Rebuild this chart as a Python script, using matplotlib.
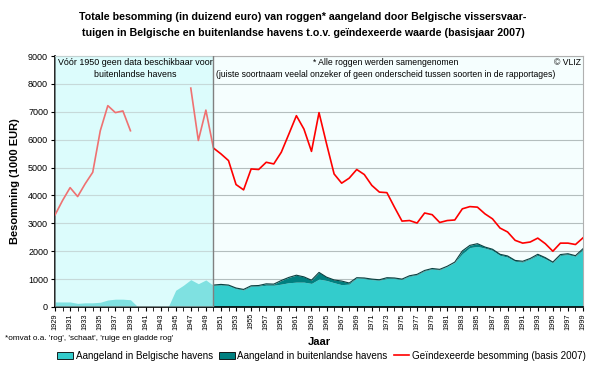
import numpy as np
import matplotlib.pyplot as plt
from matplotlib.patches import Patch
from matplotlib.lines import Line2D

plt.rcParams["font.family"] = ["Liberation Sans", "DejaVu Sans"]

years = np.arange(1929, 2000)

# Geindexeerde besomming (basis 2007), None = geen data (1929-1949)
red_pre = [3300, 3820, 4280, 3960, 4420, 4830, 6320, 7220, 6970, 7030, 6320,
           None, None, None, None, None, None, None, 7850, 5970, 7060]
# 1950-1999
red_post = [5700, 5490, 5250, 4390, 4200, 4950, 4930, 5190, 5130, 5550,
            6200, 6860, 6380, 5580, 6970, 5850, 4770, 4440, 4620, 4930,
            4750, 4360, 4120, 4100, 3580, 3080, 3100, 3010, 3370, 3310,
            3030, 3100, 3120, 3520, 3600, 3580, 3340, 3160, 2830, 2690,
            2390, 2290, 2330, 2470, 2270, 2000, 2290, 2290, 2240, 2480]

# Aangeland in Belgische havens (1929-1949)
belg_pre = [180, 180, 180, 130, 150, 150, 170, 250, 280, 280, 260,
            0, 0, 0, 0, 0, 600, 775, 980, 835, 970]
# 1950-1999
belg_post = [770, 790, 770, 660, 610, 740, 750, 780, 780, 820,
             870, 890, 890, 845, 1000, 950, 870, 800, 820, 1040,
             1020, 980, 960, 1020, 1020, 990, 1100, 1150, 1290, 1360,
             1330, 1450, 1600, 1910, 2130, 2170, 2110, 2030, 1850, 1790,
             1640, 1610, 1720, 1850, 1730, 1590, 1850, 1880, 1820, 2050]
# Totaal (Belgische + buitenlandse havens), 1950-1999
total_post = [786, 810, 786, 680, 630, 760, 770, 830, 820, 950,
              1060, 1140, 1080, 960, 1240, 1070, 970, 930, 860, 1050,
              1040, 1000, 976, 1050, 1040, 1000, 1120, 1170, 1310, 1380,
              1350, 1460, 1610, 2010, 2210, 2270, 2150, 2070, 1890, 1830,
              1670, 1640, 1740, 1890, 1770, 1610, 1880, 1910, 1840, 2090]

red = np.array(red_pre + red_post, dtype=float)
y_old = years[years <= 1950]
y_new = years[years >= 1950]
belg_old = np.array(belg_pre + belg_post[:1], dtype=float)
belg_new = np.array(belg_post, dtype=float)
total_new = np.array(total_post, dtype=float)

BG_OLD = "#dcfcfc"
CYAN = "#33cccc"
TEAL = "#008080"

fig = plt.figure(figsize=(6, 3.68), dpi=100)
ax = fig.add_axes([0.0917, 0.1658, 0.88, 0.682])
ax.set_facecolor("#f5fefe")
ax.axvspan(1929, 1950, facecolor=BG_OLD, zorder=0)

ax.fill_between(y_old, 0, belg_old, color=CYAN, lw=0, zorder=2)
ax.fill_between(y_new, 0, belg_new, color=CYAN, lw=0, zorder=2)
ax.fill_between(y_new, belg_new, total_new, color=TEAL, lw=0, zorder=2)
ax.plot(y_new, total_new, color="#0a4040", lw=0.8, zorder=2.5)
ax.plot(years, red, color="red", lw=1.2, zorder=3)

# lichter maken van periode voor 1950
ax.axvspan(1929, 1950, facecolor=BG_OLD, alpha=0.45, lw=0, zorder=4)
ax.axvline(1950, color="#808080", lw=1, zorder=5)

ax.set_xlim(1929, 1999)
ax.set_ylim(0, 9000)
ax.set_yticks(np.arange(0, 9001, 1000))
ax.yaxis.grid(True, color="#b4bebe", lw=0.8, zorder=1)
ax.set_axisbelow(True)
ax.set_xticks(np.arange(1929, 2000, 2))
ax.set_xticks(np.arange(1929, 2000, 1), minor=True)
ax.tick_params(axis="x", labelsize=5.3, rotation=90, length=3, pad=1.5)
ax.tick_params(axis="x", which="minor", length=3)
ax.tick_params(axis="y", labelsize=6.5, length=3, pad=2)
for s in ["top", "right"]:
    ax.spines[s].set_color("#b0b0b0")
    ax.spines[s].set_linewidth(0.8)
for s in ["left", "bottom"]:
    ax.spines[s].set_linewidth(1.2)

ax.set_ylabel("Besomming (1000 EUR)", fontsize=8, fontweight="bold", labelpad=6)
ax.set_xlabel("Jaar", fontsize=8, fontweight="bold", labelpad=5)

ax.text(1939.7, 8930, "Vóór 1950 geen data beschikbaar voor\nbuitenlandse havens",
        ha="center", va="top", fontsize=6.4, linespacing=1.5, zorder=6)
ax.text(1972.8, 8930, "* Alle roggen werden samengenomen\n"
        "(juiste soortnaam veelal onzeker of geen onderscheid tussen soorten in de rapportages)",
        ha="center", va="top", fontsize=6.2, linespacing=1.5, zorder=6)
ax.text(1998.7, 8930, "© VLIZ", ha="right", va="top", fontsize=6.2, zorder=6)

fig.text(0.505, 0.968, "Totale besomming (in duizend euro) van roggen* aangeland door Belgische vissersvaar-\n"
         "tuigen in Belgische en buitenlandse havens t.o.v. geïndexeerde waarde (basisjaar 2007)",
         ha="center", va="top", fontsize=7.7, fontweight="bold", linespacing=1.8)
fig.text(0.008, 0.081, "*omvat o.a. 'rog', 'schaat', 'ruige en gladde rog'", fontsize=5.9,
         va="center")

handles = [Patch(facecolor=CYAN, edgecolor="black", lw=0.6),
           Patch(facecolor=TEAL, edgecolor="black", lw=0.6),
           Line2D([], [], color="red", lw=1.2)]
labels = ["Aangeland in Belgische havens", "Aangeland in buitenlandse havens",
          "Geïndexeerde besomming (basis 2007)"]
fig.legend(handles, labels, loc="center", bbox_to_anchor=(0.536, 0.033), ncol=3,
           frameon=False, fontsize=7.1, handlelength=1.6, handleheight=0.8,
           handletextpad=0.3, columnspacing=0.6, borderaxespad=0)

fig.savefig("out.png", dpi=100)
